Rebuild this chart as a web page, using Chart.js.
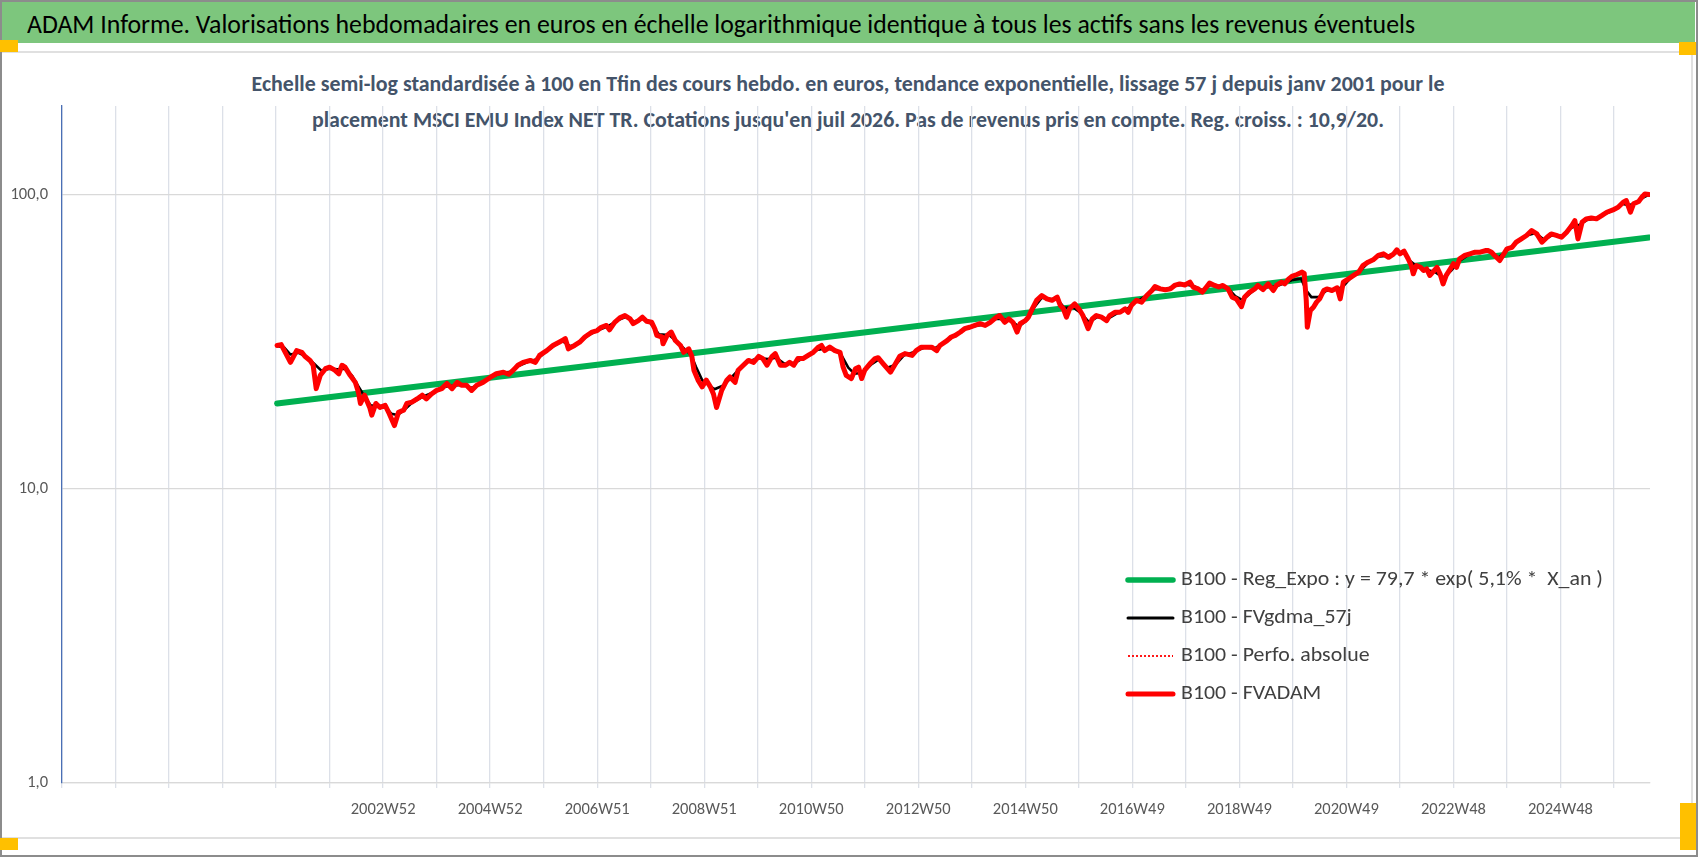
<!DOCTYPE html>
<html lang="fr">
<head>
<meta charset="utf-8">
<title>ADAM Informe - MSCI EMU Index NET TR</title>
<script src="https://cdn.jsdelivr.net/npm/chart.js@4.4.1/dist/chart.umd.min.js"></script>
<style>
  html, body { margin:0; padding:0; background:#fff; }
  body { font-family: Carlito, 'Liberation Sans Narrow', 'Arial Narrow', 'DejaVu Sans Condensed', Lato, sans-serif; }
  #page { position:relative; width:1698px; height:857px; overflow:hidden; background:#fff; }
  .abs { position:absolute; }
  #frame { left:0; top:0; width:1694px; height:853px; border:2px solid #8c8c8c; }
  #band { left:2px; top:2px; width:1693px; height:41px; background:#7dc67d; }
  #title { left:27px; top:4px; height:41px; line-height:41px; font-size:26px; color:#000; white-space:nowrap; transform-origin:0 50%; }
  .sub { left:848px; height:30px; line-height:30px; font-size:22px; font-weight:bold; color:#44546a; white-space:nowrap; transform-origin:50% 50%; }
  #sub1 { top:69px; }
  #sub2 { top:105px; }
  .hl { height:2px; background:#e0e0e0; }
  .vl { width:2px; background:#e0e0e0; }
  .mk { background:#ffc000; }
  #chart { position:absolute; left:0; top:0; }
</style>
</head>
<body>
<div id="page">
  <div class="abs hl" style="left:0;top:51px;width:1693px;"></div>
  <div class="abs vl" style="left:1691px;top:51px;height:788px;"></div>
  <div class="abs hl" style="left:0;top:837px;width:1693px;"></div>
  <div id="band" class="abs"></div>
  <div id="title" class="abs">ADAM Informe. Valorisations hebdomadaires en euros en échelle logarithmique identique à tous les actifs sans les revenus éventuels</div>
  <div id="sub1" class="abs sub">Echelle semi-log standardisée à 100 en Tfin des cours hebdo. en euros, tendance exponentielle, lissage 57 j depuis janv 2001 pour le</div>
  <div id="sub2" class="abs sub">placement MSCI EMU Index NET TR. Cotations jusqu'en juil 2026. Pas de revenus pris en compte. Reg. croiss. : 10,9/20.</div>
  <canvas id="chart" width="1698" height="857"></canvas>
  <div id="frame" class="abs"></div>
  <div class="abs mk" style="left:0;top:40px;width:18px;height:12px;"></div>
  <div class="abs mk" style="left:1679px;top:42px;width:17px;height:13px;"></div>
  <div class="abs mk" style="left:0;top:838px;width:18px;height:12px;"></div>
  <div class="abs mk" style="left:1680px;top:803px;width:16px;height:47px;"></div>
</div>
<script>
// ---------- categories (weekly axis: index 0 = 1997W01, one step per week) ----------
const LAST_WEEK_INDEX = 1543;          // ~2026W31 (cotations jusqu'en juil 2026)
const GRID_STEP_WEEKS = 52;
const LABEL_FIRST_INDEX = 312;         // index of "2002W52"
const LABEL_STEP_WEEKS = 104;
const TICK_LABELS = ['2002W52','2004W52','2006W51','2008W51','2010W50','2012W50','2014W50','2016W49','2018W49','2020W49','2022W48','2024W48'];
const Y_TICKS = [1, 10, 100];

// ---------- series labels ----------
const SERIES_LABELS = [
  'B100 - Reg_Expo : y = 79,7 * exp( 5,1% *  X_an )',
  'B100 - FVgdma_57j',
  'B100 - Perfo. absolue',
  'B100 - FVADAM'
];

// ---------- series values: [week index, value] ----------
const REG_EXPO = [[209, 19.5], [1542, 71.5]];

const FVADAM = [
[209,30.7],[213,30.9],[222,26.9],[228,29.5],[233,29.1],[236,28.2],[241,27.3],[244,26.3],[247,21.9],[251,24.3],[256,25.6],[260,25.9],[265,25.3],[269,24.6],[272,26.3],[275,25.9],[280,24.3],[285,23.0],[288,21.3],[290,19.5],[294,20.8],[299,18.9],[301,17.8],[305,19.5],[309,18.9],[314,19.2],[318,18.0],[323,16.4],[327,18.2],[332,18.5],[335,19.5],[340,19.7],[345,20.2],[350,20.8],[354,20.2],[359,21.0],[364,21.6],[369,21.9],[374,22.8],[379,21.9],[384,23.0],[388,22.5],[393,22.5],[398,21.6],[403,22.5],[409,23.0],[416,23.9],[422,24.6],[429,24.9],[434,24.5],[439,25.4],[443,26.3],[448,26.9],[455,27.3],[460,26.9],[464,28.4],[471,29.5],[477,30.7],[483,31.5],
[486,31.9],[489,32.4],[492,29.9],[495,30.3],[498,30.7],[503,31.5],[508,32.8],[515,34.1],[520,34.5],[524,35.4],[529,35.9],[532,34.7],[537,36.8],[542,38.1],[547,38.8],[552,37.8],[555,36.4],[560,37.3],[564,38.3],[568,37.1],[573,36.8],[576,35.0],[578,33.2],[583,32.8],[584,31.1],[588,33.2],[592,34.1],[596,31.9],[601,30.7],[604,29.1],[609,29.9],[612,28.2],[614,25.3],[618,23.4],[622,22.2],[626,23.4],[630,22.2],[633,21.0],[636,18.9],[641,21.6],[646,23.4],[649,24.0],[654,23.0],[657,25.3],[662,26.3],[667,27.3],[672,26.9],[677,28.2],[681,27.7],[685,26.3],[690,28.2],[693,28.8],[698,26.3],[703,26.3],[707,26.9],[711,26.3],[715,27.7],[720,27.7],[725,28.4],[730,29.1],[735,30.3],[738,30.7],[741,29.5],[746,30.3],[751,29.5],[756,29.1],
[759,25.9],[762,24.3],[767,23.7],[771,25.6],[774,25.9],[777,23.7],[780,25.3],[785,26.6],[790,27.7],[793,27.9],[798,26.6],[805,24.9],[809,26.3],[814,28.2],[819,28.8],[826,28.4],[830,29.5],[835,30.3],[840,30.3],[845,30.3],[850,29.5],[853,30.7],[860,31.9],[864,32.8],[868,33.2],[873,34.1],[877,35.0],[882,35.4],[887,35.9],[892,36.4],[897,35.9],[902,36.8],[908,38.3],[911,38.8],[916,36.8],[920,37.8],[924,36.8],[928,34.1],[931,36.4],[936,37.3],[939,38.3],[942,40.4],[947,43.7],[952,45.4],[957,44.2],[962,43.7],[967,44.8],[970,42.0],[973,40.9],[976,38.3],[979,40.9],[984,42.5],[988,40.9],[992,38.8],[997,35.0],[1001,37.8],[1005,38.8],[1010,38.3],[1015,37.3],[1018,38.8],[1023,39.8],[1028,39.8],[1033,40.9],
[1036,39.8],[1039,42.0],[1044,43.7],[1049,43.1],[1054,45.4],[1059,47.2],[1062,48.7],[1067,47.8],[1072,47.5],[1077,47.8],[1081,49.1],[1086,49.7],[1091,49.3],[1096,50.4],[1099,48.5],[1104,47.8],[1108,46.6],[1112,48.5],[1115,50.0],[1120,49.1],[1124,48.5],[1128,49.1],[1133,47.8],[1137,44.8],[1141,44.2],[1146,41.6],[1149,44.8],[1154,46.6],[1159,47.8],[1162,49.1],[1167,47.5],[1172,49.7],[1177,47.2],[1180,49.1],[1185,50.4],[1188,49.7],[1192,51.7],[1195,52.7],[1200,53.5],[1205,54.5],[1207,54.0],[1209,43.7],[1210,35.4],[1213,40.4],[1216,41.4],[1219,43.1],[1222,44.2],[1226,47.2],[1229,47.8],[1234,47.2],[1239,48.2],[1242,44.2],[1245,50.4],[1250,51.7],[1255,53.1],[1260,54.5],[1264,57.4],[1269,58.9],[1274,60.0],[1279,62.1],[1284,62.9],[1289,61.2],[1294,62.9],[1297,64.9],[1300,62.9],[1304,64.2],
[1308,60.5],[1311,57.4],[1313,53.8],[1316,57.4],[1320,56.6],[1323,55.2],[1326,55.9],[1329,53.1],[1332,54.5],[1336,56.6],[1339,53.8],[1342,49.7],[1345,53.1],[1349,55.9],[1352,58.2],[1355,56.6],[1358,60.5],[1363,62.1],[1368,62.9],[1373,63.7],[1378,63.7],[1383,64.5],[1386,64.5],[1389,63.7],[1392,62.1],[1397,59.7],[1400,62.1],[1404,65.4],[1409,66.2],[1413,68.9],[1418,70.7],[1423,72.6],[1428,75.5],[1433,73.5],[1438,68.9],[1443,71.6],[1447,73.5],[1452,72.6],[1457,71.6],[1462,74.5],[1467,78.5],[1470,81.6],[1473,70.7],[1477,80.5],[1481,82.7],[1486,83.3],[1491,82.7],[1496,84.8],[1501,87.1],[1507,88.7],[1512,90.5],[1517,94.2],[1520,95.4],[1524,87.1],[1527,93.0],[1532,94.7],[1535,97.9],[1538,100.5],[1542,100.0]
];

const FV_GDMA_57J = [
[209,30.6],[216,30.2],[222,28.6],[230,29.0],[238,28.0],[245,26.6],[252,25.2],[260,25.6],[268,25.5],[275,25.6],[282,24.2],[288,22.3],[294,20.6],[300,19.2],[307,19.2],[314,19.0],[320,18.0],[326,17.8],[333,18.6],[340,19.6],[350,20.5],[360,21.2],[370,22.2],[380,22.4],[390,22.6],[398,22.0],[408,22.9],[418,24.1],[428,24.8],[436,25.0],[444,26.2],[454,27.1],[462,27.6],[470,29.2],[478,30.6],[486,31.8],[494,30.5],[502,31.2],[510,33.0],[520,34.5],[530,35.6],[540,37.4],[548,38.4],[556,37.0],[564,37.8],[572,36.5],[580,33.5],[590,33.3],[598,31.5],[605,29.8],[611,28.6],[616,26.0],[622,23.4],[628,22.6],[634,21.8],[642,22.4],[650,23.8],[658,25.5],[666,27.0],[676,27.8],[686,27.6],[694,27.9],[702,26.6],[712,26.8],[722,28.0],[732,29.6],[742,30.0],[752,29.6],[758,28.2],[764,25.8],[770,24.6],[778,24.8],[786,26.4],[794,27.6],[802,25.8],[810,26.4],[818,28.4],[828,29.2],[838,30.2],[848,30.0],[858,31.5],[868,33.2],[878,34.9],[888,35.8],[898,36.2],[906,37.8],[914,37.8],[922,37.2],[930,35.6],[938,37.6],[945,41.5],[952,44.6],[960,44.2],[967,44.0],[974,41.2],[982,41.4],[990,39.6],[998,36.8],[1006,38.4],[1016,37.8],[1026,39.6],[1034,40.6],[1042,42.8],[1052,45.0],[1062,47.8],[1072,47.6],[1082,49.0],[1092,49.5],[1100,48.8],[1108,47.2],[1116,49.3],[1126,48.9],[1134,47.6],[1140,45.2],[1147,43.8],[1154,46.0],[1162,48.4],[1170,48.3],[1180,48.8],[1188,50.0],[1196,51.3],[1204,51.8],[1209,47.2],[1214,44.8],[1221,44.8],[1228,47.0],[1236,47.5],[1244,48.4],[1252,52.0],[1260,54.4],[1268,58.2],[1278,61.5],[1288,62.0],[1298,63.6],[1304,63.2],[1310,59.5],[1318,56.5],[1326,55.5],[1334,54.6],[1342,52.2],[1350,55.2],[1358,59.5],[1368,62.8],[1378,63.8],[1388,64.0],[1396,61.0],[1404,64.8],[1414,68.8],[1424,72.8],[1432,74.0],[1440,70.2],[1448,72.8],[1458,72.0],[1466,77.0],[1474,78.8],[1482,82.0],[1490,83.0],[1498,85.6],[1508,88.6],[1516,93.0],[1522,92.0],[1530,93.6],[1536,97.4],[1542,100.0]
];

// Perfo. absolue coincides with FVADAM (no revenues taken into account); drawn dotted beneath it
const PERFO_ABSOLUE = FVADAM;

// ---------- fonts / fitting ----------
const FONT_STACK = "Carlito, 'Liberation Sans Narrow', 'Arial Narrow', 'DejaVu Sans Condensed', Lato, sans-serif";
const measureCtx = document.createElement('canvas').getContext('2d');
function textWidth(txt, size, weight) {
  measureCtx.font = (weight || 'normal') + ' ' + size + 'px ' + FONT_STACK;
  return measureCtx.measureText(txt).width;
}
const TICK_PX = Math.max(14, Math.min(19, 17 * 65 / textWidth('2002W52', 17)));

function fitWidth(id, target, centered) {
  const el = document.getElementById(id);
  const w = el.getBoundingClientRect().width;
  const s = target / w;
  el.style.transform = centered ? 'translateX(-50%) scaleX(' + s + ')' : 'scaleX(' + s + ')';
}
fitWidth('title', 1388, false);
fitWidth('sub1', 1193, true);
fitWidth('sub2', 1072, true);

// ---------- legend drawn inside the plot area ----------
const insideLegend = {
  id: 'insideLegend',
  afterDraw(chart, args, opts) {
    const ctx = chart.ctx;
    ctx.save();
    ctx.font = opts.fontSize + 'px ' + FONT_STACK;
    const w0 = ctx.measureText(chart.data.datasets[0].label).width;
    const sx = Math.min(1.2, opts.firstTextWidth / w0);
    chart.data.datasets.forEach((ds, i) => {
      const y = opts.top + i * opts.rowGap;
      ctx.save();
      ctx.strokeStyle = ds.borderColor;
      ctx.lineWidth = ds.legendLineWidth || ds.borderWidth;
      ctx.setLineDash(ds.borderDash || []);
      ctx.lineCap = ds.borderDash ? 'butt' : 'round';
      ctx.beginPath();
      ctx.moveTo(opts.lineX0, y);
      ctx.lineTo(opts.lineX1, y);
      ctx.stroke();
      ctx.restore();
      ctx.save();
      ctx.translate(opts.textX, y);
      ctx.scale(sx, 1);
      ctx.fillStyle = opts.color;
      ctx.textBaseline = 'middle';
      ctx.textAlign = 'left';
      ctx.fillText(ds.label, 0, 0);
      ctx.restore();
    });
    ctx.restore();
  }
};

const tickFont = { family: FONT_STACK, size: TICK_PX };

new Chart(document.getElementById('chart'), {
  type: 'line',
  data: {
    datasets: [
      { label: SERIES_LABELS[0], data: REG_EXPO, borderColor: '#00b050', borderWidth: 6, legendLineWidth: 5.5, order: 4 },
      { label: SERIES_LABELS[1], data: FV_GDMA_57J, borderColor: '#000000', borderWidth: 2.6, legendLineWidth: 3, order: 3 },
      { label: SERIES_LABELS[2], data: PERFO_ABSOLUE, borderColor: '#ff0000', borderWidth: 1.5, borderDash: [2, 2], legendLineWidth: 1.8, order: 2 },
      { label: SERIES_LABELS[3], data: FVADAM, borderColor: '#ff0000', borderWidth: 5, legendLineWidth: 5, order: 1 }
    ]
  },
  options: {
    responsive: false,
    animation: false,
    events: [],
    elements: {
      point: { radius: 0, hoverRadius: 0 },
      line: { tension: 0, fill: false, borderJoinStyle: 'round', borderCapStyle: 'round' }
    },
    layout: { padding: { left: 0, right: 48, top: 106, bottom: 0 } },
    plugins: {
      legend: { display: false },
      tooltip: { enabled: false },
      insideLegend: {
        top: 580, rowGap: 38, lineX0: 1128, lineX1: 1173, textX: 1181,
        fontSize: 21, firstTextWidth: 422, color: '#404040'
      }
    },
    scales: {
      x: {
        type: 'linear',
        min: 0,
        max: LAST_WEEK_INDEX,
        afterFit: (s) => { s.height = 74; },
        afterBuildTicks: (s) => {
          const t = [];
          for (let v = 0; v <= LAST_WEEK_INDEX; v += GRID_STEP_WEEKS) t.push({ value: v });
          s.ticks = t;
        },
        ticks: {
          autoSkip: false,
          includeBounds: false,
          maxRotation: 0,
          minRotation: 0,
          padding: 12,
          color: '#595959',
          font: tickFont,
          callback: (value) => {
            const k = (value - LABEL_FIRST_INDEX) / LABEL_STEP_WEEKS;
            return (k >= 0 && Number.isInteger(k) && TICK_LABELS[k]) ? TICK_LABELS[k] : '';
          }
        },
        grid: { color: '#dce0e8', lineWidth: 1.3, tickLength: 5, drawTicks: true },
        border: { color: '#d9d9d9', width: 1.3 }
      },
      y: {
        type: 'logarithmic',
        min: 1,
        max: 200,
        afterFit: (s) => { s.width = 62; },
        afterBuildTicks: (s) => { s.ticks = Y_TICKS.map(v => ({ value: v })); },
        ticks: {
          padding: 14,
          color: '#595959',
          font: tickFont,
          callback: (v) => Number(v).toFixed(1).replace('.', ',')
        },
        grid: { color: '#d9d9d9', lineWidth: 1.3, drawTicks: false },
        border: { color: '#4a6fb5', width: 1.3 }
      }
    }
  },
  plugins: [insideLegend]
});
</script>
</body>
</html>
